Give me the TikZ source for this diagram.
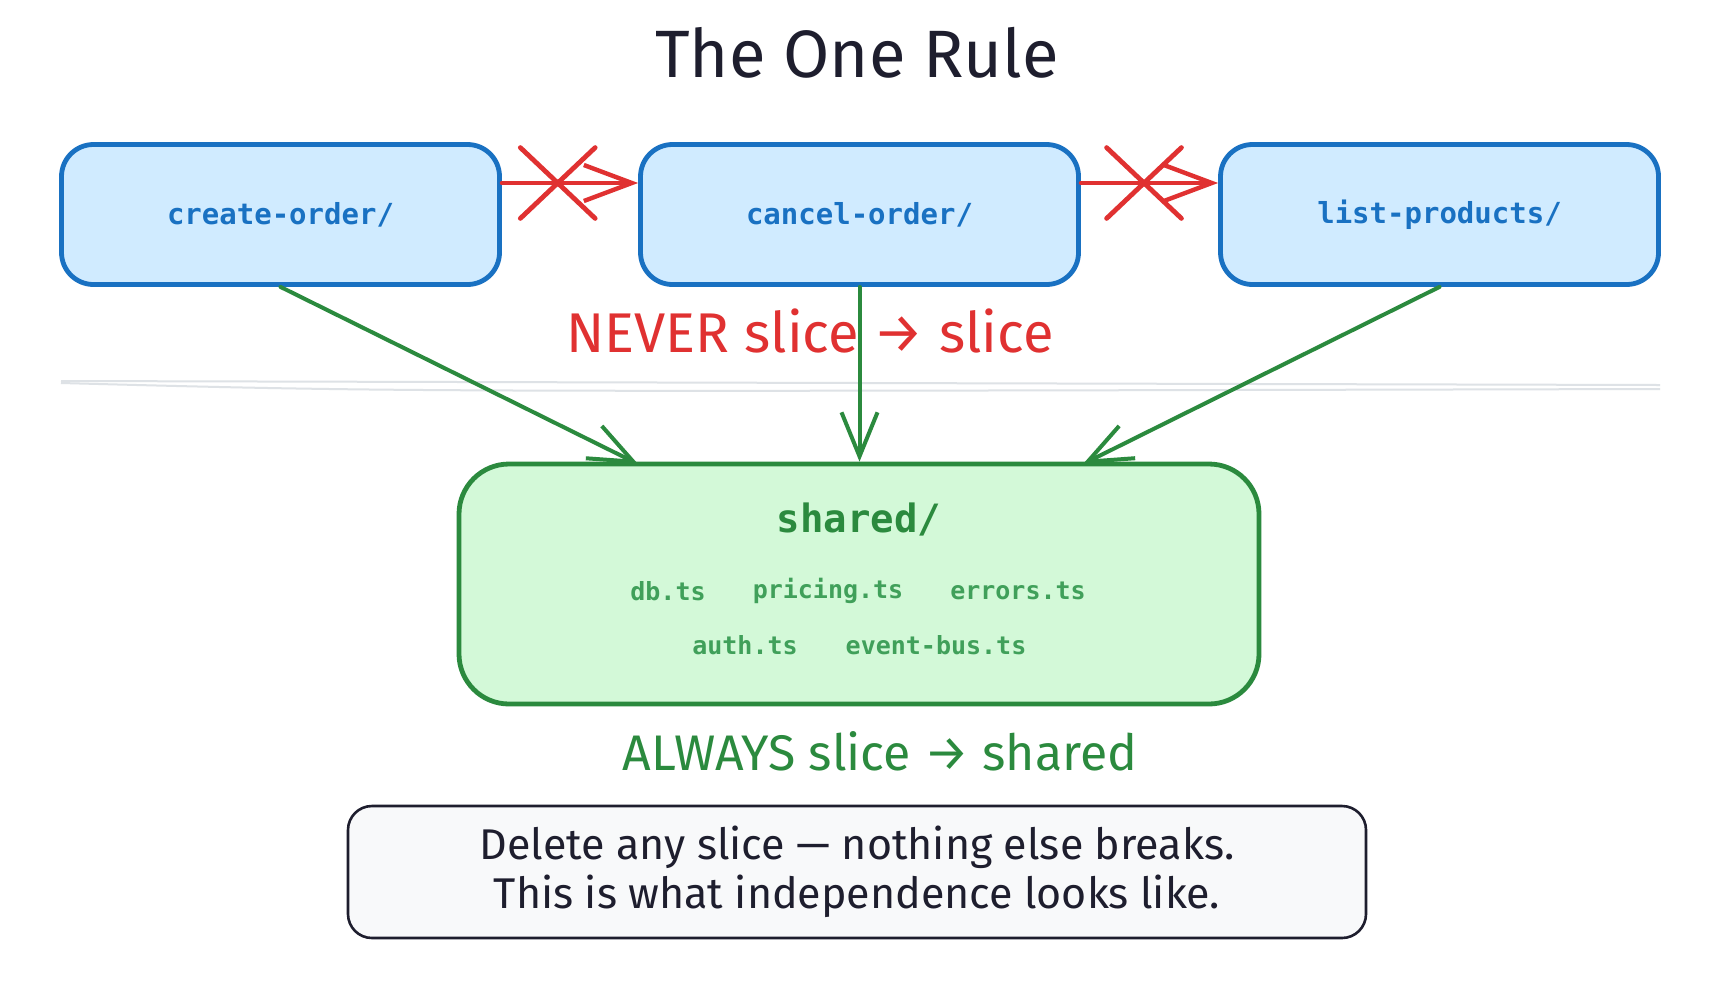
\documentclass[tikz,border=0pt]{standalone}
\usepackage{fontspec}
\setmainfont{Fira Sans}
\setmonofont{DejaVu Sans Mono}
\usetikzlibrary{arrows.meta,shapes.misc}
\definecolor{blu}{HTML}{1971C2}
\definecolor{blufill}{HTML}{D0EBFF}
\definecolor{rosso}{HTML}{E03131}
\definecolor{verde}{HTML}{2B8A3E}
\definecolor{verdechiaro}{HTML}{40A05A}
\definecolor{verdefill}{HTML}{D3F9D8}
\definecolor{inchiostro}{HTML}{1E1E2E}
\definecolor{grigiofill}{HTML}{F8F9FA}
\definecolor{grigiolinea}{HTML}{DEE2E6}

\begin{document}
\begin{tikzpicture}[x=0.5pt, y=-0.5pt,
        slicebox/.style={draw=blu, fill=blufill, line width=2.4pt,
            rounded corners=16pt, minimum width=219pt, minimum height=70pt,
            text=blu, font=\ttfamily\bfseries\fontsize{14.5}{17}\selectfont},
        vietato/.style={draw=rosso, line width=2.2pt, line cap=round,
            -{Straight Barb[length=24pt, width=18pt, line width=2.2pt]}},
        croce/.style={cross out, draw=rosso, line width=2.4pt, line cap=round,
            minimum width=35pt, minimum height=33pt, inner sep=0pt},
        dipende/.style={draw=verde, line width=2pt, line cap=round,
            -{Straight Barb[length=22pt, width=18pt, line width=2pt]}},
        file/.style={text=verdechiaro, font=\ttfamily\bfseries\fontsize{12.5}{15}\selectfont}]
        % Tela
        \fill[white] (0,0) rectangle (1732,980);
        \useasboundingbox (0,0) rectangle (1732,980);

        % Titolo
        \node[text=inchiostro, font=\fontsize{33.5}{40}\selectfont] (titolo) at (857,53) {The One Rule};

        % Slice
        \node[slicebox] (create) at (280.5,214.5) {create-order/};
        \node[slicebox] (cancel) at (859.5,214.5) {cancel-order/};
        \node[slicebox] (list) at (1439.5,214.5) {list-products/};

        % Dipendenze vietate
        \draw[vietato] ([yshift=15.75pt]create.east) -- ([yshift=15.75pt]cancel.west)
        node[croce, pos=0.41] (x1) {};
        \draw[vietato] ([yshift=15.75pt]cancel.east) -- ([yshift=15.75pt]list.west)
        node[croce, pos=0.46] (x2) {};

        \node[text=rosso, font=\fontsize{28}{33}\selectfont] (never) at (810,331) {NEVER slice → slice};

        % Separatore
        \draw[grigiolinea, line width=1pt] (61,381) -- (1660,385);
        \draw[grigiolinea, line width=1pt] (61,383) .. controls (400,392) .. (1660,389);

        % Shared
        \node[draw=verde, fill=verdefill, line width=2.4pt, rounded corners=25pt,
            minimum width=400pt, minimum height=120pt] (shared) at (859,584) {};
        \node[text=verde, font=\ttfamily\bfseries\fontsize{19.5}{23}\selectfont] (sharedtit) at (859,519) {shared/};
        \node[file] (db) at (668,591) {db.ts};
        \node[file] (pricing) at (828,591) {pricing.ts};
        \node[file] (errors) at (1018,591) {errors.ts};
        \node[file] (auth) at (745,645) {auth.ts};
        \node[file] (bus) at (936,645) {event-bus.ts};

        % Dipendenze ammesse
        \coordinate (inA) at (638,464);
        \coordinate (inC) at (1083,464);
        \draw[dipende] (create.south) -- (inA);
        \draw[dipende] (cancel.south) -- (cancel.south |- shared.north);
        \draw[dipende] (list.south) -- (inC);

        \node[text=verde, font=\fontsize{25}{30}\selectfont] (always) at (880,751) {ALWAYS slice → shared};

        % Nota finale
        \node[draw=inchiostro, fill=grigiofill, line width=1.3pt, rounded corners=12pt,
            minimum width=509pt, minimum height=66pt, text=inchiostro, align=center,
            font=\fontsize{21.5}{24.5}\selectfont] (nota) at (857,872)
        {Delete any slice — nothing else breaks.\\This is what independence looks like.};
    \end{tikzpicture}
\end{document}
